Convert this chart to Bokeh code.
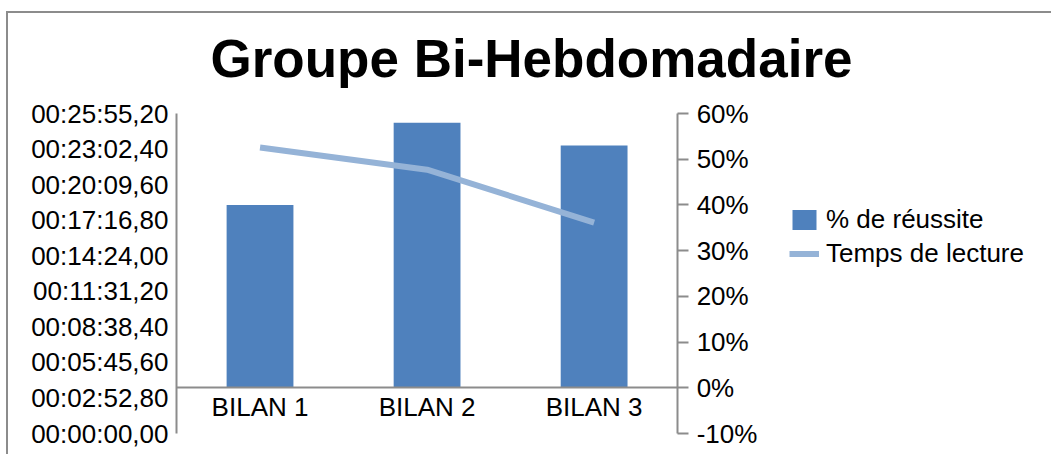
from bokeh.plotting import figure
from bokeh.models import (Range1d, LinearAxis, FixedTicker, NumeralTickFormatter, Legend,
                          LegendItem, ColumnDataSource, Title)
from bokeh.embed import file_html
from bokeh.resources import INLINE

# ---- data ----
CATEGORIES = ["BILAN 1", "BILAN 2", "BILAN 3"]
REUSSITE = [0.40, 0.58, 0.53]                  # % de réussite (right axis)
TEMPS_LECTURE_S = [1390.0, 1282.0, 1025.0]     # Temps de lecture in seconds (left axis)
TIME_TICK_SECONDS = [0.0, 172.8, 345.6, 518.4, 691.2, 864.0, 1036.8, 1209.6, 1382.4, 1555.2]
TIME_TICK_LABELS = ["00:00:00,00", "00:02:52,80", "00:05:45,60", "00:08:38,40", "00:11:31,20",
                    "00:14:24,00", "00:17:16,80", "00:20:09,60", "00:23:02,40", "00:25:55,20"]
PCT_TICKS = [-0.1, 0.0, 0.1, 0.2, 0.3, 0.4, 0.5, 0.6]
TITLE = "Groupe Bi-Hebdomadaire"
SERIES_NAMES = ["% de réussite", "Temps de lecture"]

BAR_COLOR = "#4F81BD"
LINE_COLOR = "#95B3D7"
AXIS_COLOR = "#8c8c8c"
FONT = "Liberation Sans"

W, H = 1045, 443
X_END = 5.25          # frame extends right of the categories to host the legend
AXIS_PX = 320         # pixel height of the axes' span
PAD_PX = 16           # extra frame room above/below the axes so end labels are not clipped

N = len(CATEGORIES)
cat_x = [i + 0.5 for i in range(N)]
source = ColumnDataSource(data=dict(x=cat_x, cat=CATEGORIES, pct=REUSSITE, temps=TEMPS_LECTURE_S))

pct_lo, pct_hi = PCT_TICKS[0], PCT_TICKS[-1]
t_lo, t_hi = TIME_TICK_SECONDS[0], TIME_TICK_SECONDS[-1]
pct_pad = (pct_hi - pct_lo) * PAD_PX / AXIS_PX
t_pad = (t_hi - t_lo) * PAD_PX / AXIS_PX

p = figure(width=W, height=H, output_backend="svg", toolbar_location=None,
           x_range=Range1d(0, X_END),
           y_range=Range1d(pct_lo - pct_pad, pct_hi + pct_pad),
           x_axis_location=None, y_axis_location=None,
           min_border_left=168, min_border_right=0, min_border_top=84, min_border_bottom=7)
p.extra_y_ranges = {"time": Range1d(t_lo - t_pad, t_hi + t_pad)}
p.xgrid.visible = False
p.ygrid.visible = False
p.outline_line_color = None
p.background_fill_color = "white"
p.border_fill_color = "white"
# chart border (top and left edges are visible in the reference)
p.margin = (11, 0, 0, 6)
p.styles = {"border-top": "2px solid #8c8c8c", "border-left": "2px solid #8c8c8c"}

# title
p.title = Title(text=TITLE, align="left", offset=34, standoff=19, text_font=FONT,
                text_font_size="53px", text_font_style="bold", text_color="black")

# left time axis
left_axis = LinearAxis(y_range_name="time", ticker=FixedTicker(ticks=TIME_TICK_SECONDS),
                       bounds=(t_lo, t_hi),
                       major_label_overrides=dict(zip(TIME_TICK_SECONDS, TIME_TICK_LABELS)))
left_axis.axis_line_color = AXIS_COLOR
left_axis.axis_line_width = 2
left_axis.major_tick_line_color = None
left_axis.minor_tick_line_color = None
left_axis.major_tick_out = 0
left_axis.major_tick_in = 0
left_axis.major_label_standoff = 8
left_axis.major_label_text_font = FONT
left_axis.major_label_text_font_size = "26px"
left_axis.major_label_text_color = "black"
p.add_layout(left_axis, "left")

# right percent axis, placed just after the last category
right_axis = LinearAxis(ticker=FixedTicker(ticks=PCT_TICKS), fixed_location=N,
                        bounds=(pct_lo, pct_hi),
                        formatter=NumeralTickFormatter(format="0%"))
right_axis.axis_line_color = AXIS_COLOR
right_axis.axis_line_width = 2
right_axis.major_tick_line_color = AXIS_COLOR
right_axis.major_tick_line_width = 2
right_axis.minor_tick_line_color = None
right_axis.major_tick_out = 11
right_axis.major_tick_in = 0
right_axis.major_label_standoff = 8
right_axis.major_label_text_font = FONT
right_axis.major_label_text_font_size = "26px"
right_axis.major_label_text_color = "black"
p.add_layout(right_axis, "right")

# category axis at 0%
x_axis = LinearAxis(ticker=FixedTicker(ticks=cat_x), fixed_location=0, bounds=(0, N),
                    major_label_overrides=dict(zip(cat_x, CATEGORIES)))
x_axis.axis_line_color = AXIS_COLOR
x_axis.axis_line_width = 2
x_axis.major_tick_line_color = None
x_axis.minor_tick_line_color = None
x_axis.major_tick_out = 0
x_axis.major_tick_in = 0
x_axis.major_label_standoff = 4
x_axis.major_label_text_font = FONT
x_axis.major_label_text_font_size = "26px"
x_axis.major_label_text_color = "black"
p.add_layout(x_axis, "below")

bars = p.vbar(x="x", top="pct", bottom=0, width=0.4, source=source,
              fill_color=BAR_COLOR, line_color=None)
line = p.line(x="x", y="temps", source=source, y_range_name="time",
              line_color=LINE_COLOR, line_width=6)

legend = Legend(items=[LegendItem(label=SERIES_NAMES[0], renderers=[bars]),
                       LegendItem(label=SERIES_NAMES[1], renderers=[line])],
                location=(613, 164 + PAD_PX), orientation="vertical",
                label_text_font=FONT, label_text_font_size="26px", label_text_color="black",
                glyph_width=30, glyph_height=25, label_standoff=7, spacing=3,
                padding=0, margin=0, border_line_color=None, background_fill_alpha=0)
p.add_layout(legend, "center")

open("out.html", "w").write(file_html(p, INLINE))
